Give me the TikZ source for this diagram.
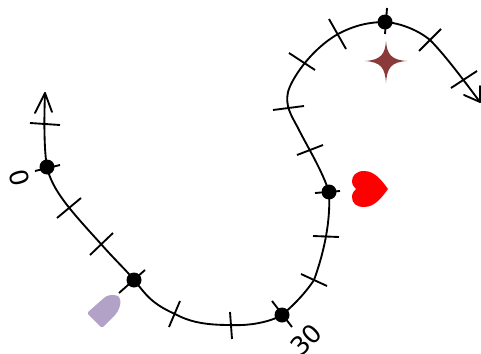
\documentclass[tikz,border=0pt]{standalone}
\usepackage{fontspec}
\setmainfont{DejaVu Sans}
\tikzset{
  px/.style={x=0.75pt,y=-0.75pt},
  trackline/.style={line width=1.4pt,line cap=round,line join=round},
  tickmark/.style={line width=1.4pt},
  stationdot/.style={circle,fill=black,inner sep=0pt,minimum size=11.25pt},
  kmlabel/.style={font=\fontsize{19}{19}\selectfont,inner sep=0pt},
}
\begin{document}
\begin{tikzpicture}[px]
\useasboundingbox (0,0) rectangle (481,353);
% track
\coordinate (tip) at (45,93);
\coordinate (end) at (480,102);
\draw[trackline] (tip) .. controls (44,120) and (44,150) .. (47,167)
  .. controls (52,190) and (70,210) .. (101,244)
  .. controls (115,260) and (128,272) .. (134,280)
  .. controls (145,293) and (150,303) .. (175,314)
  .. controls (190,322) and (205,325) .. (230,325)
  .. controls (250,326) and (270,322) .. (282,315)
  .. controls (296,303) and (306,292) .. (314,280)
  .. controls (322,258) and (331,225) .. (329,192)
  .. controls (322,170) and (308,148) .. (298,128)
  .. controls (291,115) and (285,106) .. (288,92)
  .. controls (291,80) and (310,50) .. (338,34)
  .. controls (355,25) and (370,22) .. (385,22)
  .. controls (400,23) and (418,30) .. (430,40)
  .. controls (445,55) and (465,82) .. (end);
% arrowheads
\draw[trackline] (35,113) -- (tip) -- (52,112);
\draw[trackline] (464,95) -- (end) -- (480,86);
% ticks
\foreach \xa/\ya/\xb/\yb in {
 30/123/60/125, 35/171/60/165, 57/218/81/198, 90/255/113/233, 119/293/145/270,
 169/327/180/301, 232/339/230/312, 272/301/292/327, 301/274/327/286, 313/236/339/237,
 315/193/340/191, 297/155/323/145, 273/110/304/106, 289/53/315/70, 329/19/346/49,
 387/8/385/34, 419/51/441/29, 451/88/477/71}
 \draw[tickmark] (\xa,\ya) -- (\xb,\yb);
% stations
\node[stationdot] (s1) at (47,167) {};
\node[stationdot] (s2) at (134,280) {};
\node[stationdot] (s3) at (282,315) {};
\node[stationdot] (s4) at (329,192) {};
\node[stationdot] (s5) at (385,22) {};
% labels
\node[kmlabel,rotate=-75] (l0) at (19,178) {0};
\node[kmlabel,rotate=45] (l30) at (306,340) {30};
% symbols
\fill[fill={rgb,255:red,179;green,162;blue,199},rounded corners=1.5pt] (87,313) -- (102,328) -- (114,316)
  .. controls (119,311) and (121,303) .. (120,299) .. controls (118,295) and (111,294) .. (105,297) -- cycle;
\fill[fill={rgb,255:red,139;green,58;blue,58}] (386,41) .. controls (387,54) and (391,60) .. (407,61)
  .. controls (391,62) and (387,68) .. (386,83) .. controls (385,68) and (381,62) .. (365,61)
  .. controls (381,60) and (385,54) .. (386,41) -- cycle;
\fill[red] (388,189) .. controls (382,181) and (375,171) .. (364,171)
  .. controls (356,171) and (352,176) .. (352,181) .. controls (352,185) and (354,187) .. (356,189)
  .. controls (354,191) and (352,193) .. (352,197) .. controls (352,203) and (356,207) .. (364,207)
  .. controls (375,207) and (382,197) .. (388,189) -- cycle;
\end{tikzpicture}
\end{document}
